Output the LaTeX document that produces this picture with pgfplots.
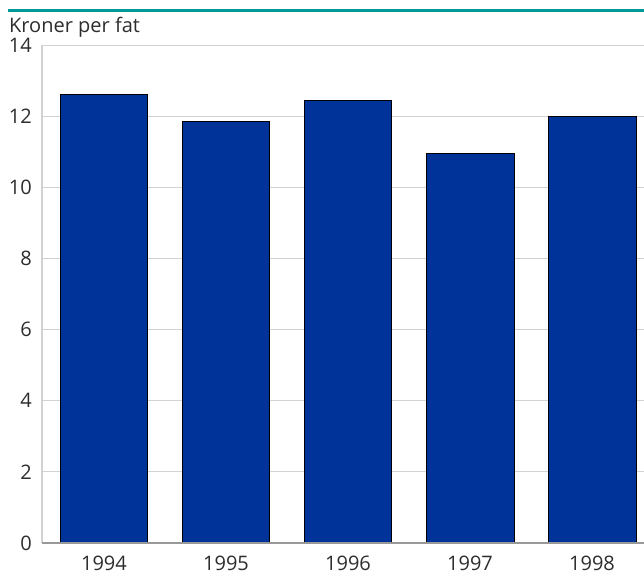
\documentclass[border=0pt]{standalone}
\usepackage{fontspec}
\setmainfont{Open Sans}
\usepackage{pgfplots}
\pgfplotsset{compat=1.18}
\definecolor{barblue}{RGB}{0,51,153}
\definecolor{teal}{RGB}{0,153,153}
\definecolor{txt}{RGB}{45,45,45}
\definecolor{gridc}{RGB}{210,210,210}
\begin{document}
\begin{tikzpicture}[x=1bp,y=1bp]
\path[use as bounding box] (0,0) rectangle (644,576);
\draw[teal, line width=3bp] (8,565) -- (644,565);
\node[anchor=base west, text=txt, font=\fontsize{20bp}{24bp}\selectfont, inner sep=0pt] at (9,543) {Kroner per fat};
\begin{axis}[
  at={(42bp,33bp)}, anchor=south west,
  scale only axis, width=602bp, height=498bp,
  xmin=-0.508, xmax=4.426, ymin=0, ymax=14,
  xtick={0,1,2,3,4}, xticklabels={1994,1995,1996,1997,1998},
  ytick={0,2,...,14},
  ymajorgrids, grid style={gridc, line width=0.8pt},
  axis line style={draw=none},
  axis x line*=bottom, axis y line*=left,
  major tick length=0pt,
  tick label style={text=txt, font=\fontsize{20bp}{24bp}\selectfont},
  /pgf/number format/assume math mode=true,
  xticklabel style={anchor=base, yshift=-28bp},
  yticklabel style={anchor=east, inner sep=0pt, xshift=-10bp},
  clip=false,
]
\addplot[ybar, bar width=0.72, fill=barblue, draw=black, line width=0.9pt] coordinates {
  (0,12.6) (1,11.84) (2,12.45) (3,10.94) (4,12.0)
};
\draw[gridc, line width=1.2pt] (axis cs:-0.508,0) -- (axis cs:-0.508,14);
\draw[black!40, line width=1.6pt] (axis cs:-0.508,0) -- (axis cs:4.426,0);
\end{axis}
\end{tikzpicture}
\end{document}
